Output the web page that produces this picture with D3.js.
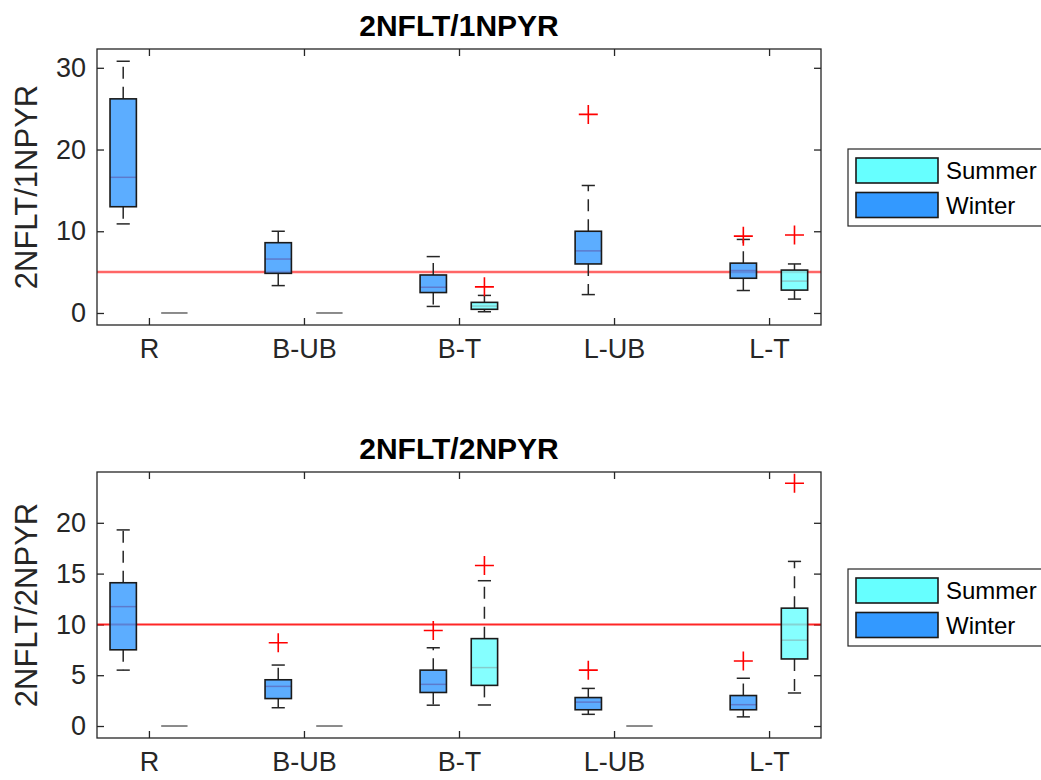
<!DOCTYPE html>
<html>
<head>
<meta charset="utf-8">
<script src="https://cdn.jsdelivr.net/npm/d3@7"></script>
<style>
  body { margin: 0; background: #fff; }
  svg { display: block; font-family: "Liberation Sans", Arial, sans-serif; }
</style>
</head>
<body>
<svg id="chart"></svg>
<script>
// categories along x
const categories = ["R", "B-UB", "B-T", "L-UB", "L-T"];

// each box: [lower whisker, q1, median, q3, upper whisker]; "zero" = empty group drawn as a flat line at 0
const topWinter = [[10.9, 13.0, 16.6, 26.2, 30.8], [3.35, 4.85, 6.6, 8.6, 10.0], [0.8, 2.5, 3.15, 4.65, 6.9], [2.25, 6.0, 7.6, 10.0, 15.6], [2.75, 4.25, 5.2, 6.1, 9.0]];
const topSummer = ["zero", "zero", [0.15, 0.45, 0.85, 1.3, 2.15], null, [1.7, 2.8, 3.9, 5.25, 6.0]];
const topWinterOut = [[], [], [], [24.3], [9.4]];
const topSummerOut = [[], [], [3.2], [], [9.55]];
const topTicks = [0, 10, 20, 30];
const topRef = 5;

const botWinter = [[5.5, 7.5, 11.75, 14.1, 19.3], [1.8, 2.7, 3.9, 4.55, 6.0], [2.05, 3.3, 4.1, 5.5, 7.7], [1.15, 1.6, 2.35, 2.8, 3.7], [0.9, 1.6, 2.1, 3.0, 4.7]];
const botSummer = ["zero", "zero", [2.07, 4.0, 5.75, 8.6, 14.3], "zero", [3.25, 6.6, 8.45, 11.6, 16.2]];
const botWinterOut = [[], [8.2], [9.4], [5.5], [6.4]];
const botSummerOut = [[], [], [15.8], [], [23.9]];
const botTicks = [0, 5, 10, 15, 20];
const botRef = 10;

const seasons = ["Summer", "Winter"];
const seasonFill = { Summer: "#66ffff", Winter: "#3399ff" };

const width = 1041, height = 780;
const axisColor = "#262626";

const svg = d3.select("#chart").attr("width", width).attr("height", height);

const panels = [
  { title: "2NFLT/1NPYR", ylabel: "2NFLT/1NPYR", y0: 49, y1: 325, domain: [-1.47, 32.3], ticks: topTicks, ref: topRef,
    winter: topWinter, summer: topSummer, winterOut: topWinterOut, summerOut: topSummerOut, legendY: 149, refStyle: { w: 2.5, op: 0.6 } },
  { title: "2NFLT/2NPYR", ylabel: "2NFLT/2NPYR", y0: 472, y1: 738, domain: [-1.18, 25], ticks: botTicks, ref: botRef,
    winter: botWinter, summer: botSummer, winterOut: botWinterOut, summerOut: botSummerOut, legendY: 569, refStyle: { w: 2, op: 0.85 } }
];

const xScale = d3.scaleLinear().domain([0.665, 5.335]).range([97, 821]);
const halfBox = 0.085;
const offsets = { Winter: -0.166, Summer: 0.164 };

panels.forEach(p => {
  const yScale = d3.scaleLinear().domain(p.domain).range([p.y1, p.y0]);
  const g = svg.append("g");
  const [xl, xr] = xScale.range();

  // title
  g.append("text")
    .attr("x", (xl + xr) / 2)
    .attr("y", p.y0 - 13)
    .attr("text-anchor", "middle")
    .attr("font-weight", "bold")
    .attr("font-size", 30)
    .attr("fill", "#000")
    .text(p.title);

  // y label
  g.append("text")
    .attr("transform", `translate(37, ${(p.y0 + p.y1) / 2}) rotate(-90)`)
    .attr("text-anchor", "middle")
    .attr("font-size", 31)
    .attr("fill", axisColor)
    .text(p.ylabel);

  // axes with inward ticks
  const left = g.append("g").attr("transform", `translate(${xl},0)`)
    .call(d3.axisLeft(yScale).tickValues(p.ticks).tickSize(-7).tickSizeOuter(0).tickPadding(11));
  const right = g.append("g").attr("transform", `translate(${xr},0)`)
    .call(d3.axisRight(yScale).tickValues(p.ticks).tickSize(-7).tickSizeOuter(0).tickFormat(""));
  const bottom = g.append("g").attr("transform", `translate(0,${p.y1})`)
    .call(d3.axisBottom(xScale).tickValues([1, 2, 3, 4, 5]).tickSize(-7).tickSizeOuter(0)
      .tickPadding(14).tickFormat(d => categories[d - 1]));
  const top = g.append("g").attr("transform", `translate(0,${p.y0})`)
    .call(d3.axisTop(xScale).tickValues([1, 2, 3, 4, 5]).tickSize(-7).tickSizeOuter(0).tickFormat(""));

  [left, right, bottom, top].forEach(axis => {
    axis.select(".domain").remove();
    axis.selectAll(".tick line").attr("stroke", axisColor).attr("stroke-width", 1.3);
    axis.selectAll(".tick text")
      .attr("fill", axisColor)
      .style("font-size", "27px")
      .style("font-family", "Liberation Sans, Arial, sans-serif");
  });

  // reference line
  g.append("line")
    .attr("x1", xl).attr("x2", xr)
    .attr("y1", yScale(p.ref)).attr("y2", yScale(p.ref))
    .attr("stroke", "#ff0000")
    .attr("stroke-opacity", p.refStyle.op)
    .attr("stroke-width", p.refStyle.w);

  // boxes
  const drawGroup = (stats, outs, season) => {
    stats.forEach((s, i) => {
      const cx = i + 1 + offsets[season];
      if (s === null) return;
      if (s === "zero") {
        g.append("line")
          .attr("x1", xScale(cx - halfBox)).attr("x2", xScale(cx + halfBox))
          .attr("y1", yScale(0)).attr("y2", yScale(0))
          .attr("stroke", "#7f7f7f").attr("stroke-width", 1.8);
        return;
      }
      const [lo, q1, med, q3, hi] = s;
      const x = xScale(cx);
      const capHalf = (xScale(cx + halfBox) - xScale(cx)) / 2;

      // whiskers
      [[q3, hi], [q1, lo]].forEach(([from, to]) => {
        g.append("line")
          .attr("x1", x).attr("x2", x)
          .attr("y1", yScale(from)).attr("y2", yScale(to))
          .attr("stroke", "#262626").attr("stroke-width", 1.5)
          .attr("stroke-dasharray", "12,8");
        g.append("line")
          .attr("x1", x - capHalf).attr("x2", x + capHalf)
          .attr("y1", yScale(to)).attr("y2", yScale(to))
          .attr("stroke", "#262626").attr("stroke-width", 1.5);
      });

      // median in red sits under the translucent box
      g.append("line")
        .attr("x1", xScale(cx - halfBox)).attr("x2", xScale(cx + halfBox))
        .attr("y1", yScale(med)).attr("y2", yScale(med))
        .attr("stroke", "#ff0000").attr("stroke-width", 1.5);

      g.append("rect")
        .attr("x", xScale(cx - halfBox))
        .attr("y", yScale(q3))
        .attr("width", xScale(cx + halfBox) - xScale(cx - halfBox))
        .attr("height", yScale(q1) - yScale(q3))
        .attr("fill", seasonFill[season])
        .attr("fill-opacity", 0.8)
        .attr("stroke", "#1a1a1a")
        .attr("stroke-width", 1.6);

      // outliers
      outs[i].forEach(v => {
        const y = yScale(v);
        g.append("path")
          .attr("d", `M${x - 9.5},${y}H${x + 9.5}M${x},${y - 9.5}V${y + 9.5}`)
          .attr("stroke", "#ff0000").attr("stroke-width", 1.6).attr("fill", "none");
      });
    });
  };
  drawGroup(p.winter, p.winterOut, "Winter");
  drawGroup(p.summer, p.summerOut, "Summer");

  // axes frame
  g.append("rect")
    .attr("x", xl).attr("y", p.y0)
    .attr("width", xr - xl).attr("height", p.y1 - p.y0)
    .attr("fill", "none").attr("stroke", axisColor).attr("stroke-width", 1.3);

  // legend
  const lg = g.append("g").attr("transform", `translate(848,${p.legendY})`);
  lg.append("rect")
    .attr("width", 230).attr("height", 77)
    .attr("fill", "#fff").attr("stroke", axisColor).attr("stroke-width", 1.2);
  seasons.forEach((s, k) => {
    lg.append("rect")
      .attr("x", 8).attr("y", 9 + k * 34.5)
      .attr("width", 82).attr("height", 25)
      .attr("fill", seasonFill[s]).attr("stroke", "#1a1a1a").attr("stroke-width", 1.6);
    lg.append("text")
      .attr("x", 98).attr("y", 30 + k * 34.5)
      .attr("font-size", 24)
      .attr("fill", "#000")
      .text(s);
  });
});
</script>
</body>
</html>
